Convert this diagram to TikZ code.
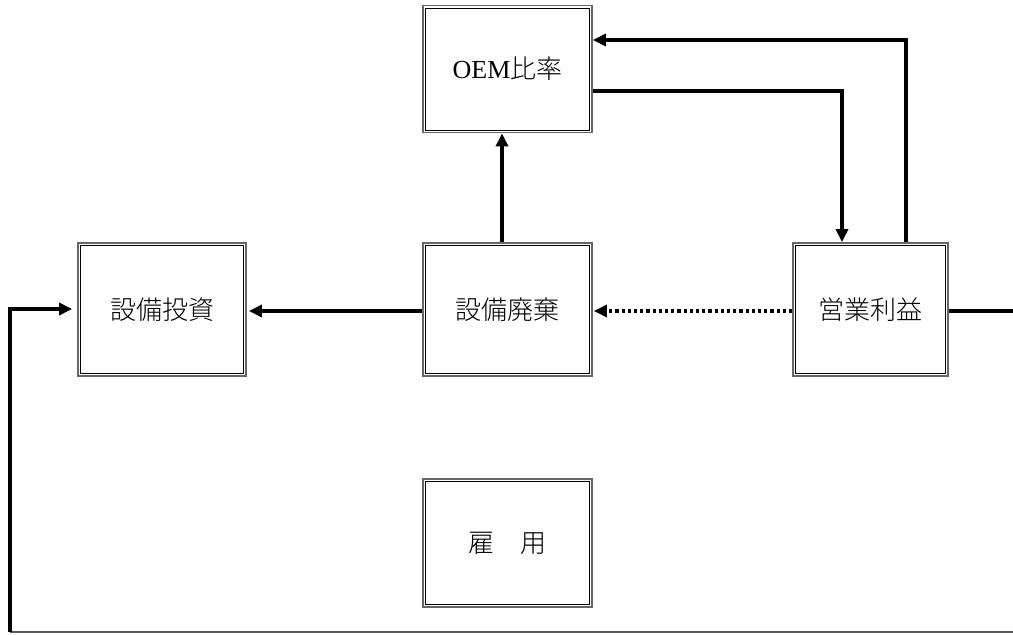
\documentclass[tikz,border=0pt]{standalone}
\usepackage{fontspec}
\setmainfont{Liberation Serif}
\newfontfamily\cjk{Noto Sans CJK JP Light}
\usetikzlibrary{arrows.meta}

\begin{document}
\begin{tikzpicture}[x=1pt,y=-1pt,
  frame/.style={draw=black!60, line width=1.8pt, fill=white, inner sep=0pt,
    font=\fontsize{26}{30}\selectfont, text=black},
  inner frame/.style={draw=black, line width=1pt},
  link/.style={line width=3.2pt, line cap=butt, line join=miter},
  arr/.style={link, -{Triangle[length=13pt,width=12pt]}},
  dotlink/.style={arr, dash pattern=on 3.2pt off 3pt},
  floor/.style={draw=black!65, line width=1.4pt}]
\useasboundingbox (0,0) rectangle (1013,635);

% boxes
\node[frame, minimum width=169pt, minimum height=127pt] (oem)  at (507.5,69)  {OEM{\cjk 比率}};
\node[frame, minimum width=168pt, minimum height=133pt] (inv)  at (162,309.5) {\cjk 設備投資};
\node[frame, minimum width=169pt, minimum height=133pt] (disp) at (507.5,309.5) {\cjk 設備廃棄};
\node[frame, minimum width=155pt, minimum height=133pt] (prof) at (870.5,309.5) {\cjk 営業利益};
\node[frame, minimum width=169pt, minimum height=128pt] (emp)  at (507.5,543) {\cjk 雇\hspace{1em}用};

% inner line of each double frame
\foreach \b in {oem,inv,disp,prof,emp}
  \draw[inner frame] ([shift={(3.4pt,-3.4pt)}]\b.north west) rectangle ([shift={(-3.4pt,3.4pt)}]\b.south east);

% routing points
\coordinate (up)   at (906,40);
\coordinate (down) at (842,91);
\coordinate (rout) at (1013,311);
\coordinate (bl)   at (10,632);
\coordinate (br)   at (1013,632);
\coordinate (lin)  at (10,309);
\coordinate (mid)  at (502,0);

% connectors
\draw[arr, shorten >=2pt] (disp.west |- rout) -- (inv.east |- rout);
\draw[dotlink] (prof.west |- rout) -- ([xshift=1pt]disp.east |- rout);
\draw[arr] (disp.north -| mid) -- (oem.south -| mid);
\draw[arr] (prof.north -| up) |- (oem.east |- up);
\draw[arr] (oem.east |- down) -| (prof.north -| down);
\draw[link] (prof.east |- rout) -- (rout);
\draw[floor] (br) -- (bl);
\draw[arr, shorten >=5pt] (bl) -- (lin) -- (inv.west |- lin);
\end{tikzpicture}
\end{document}
